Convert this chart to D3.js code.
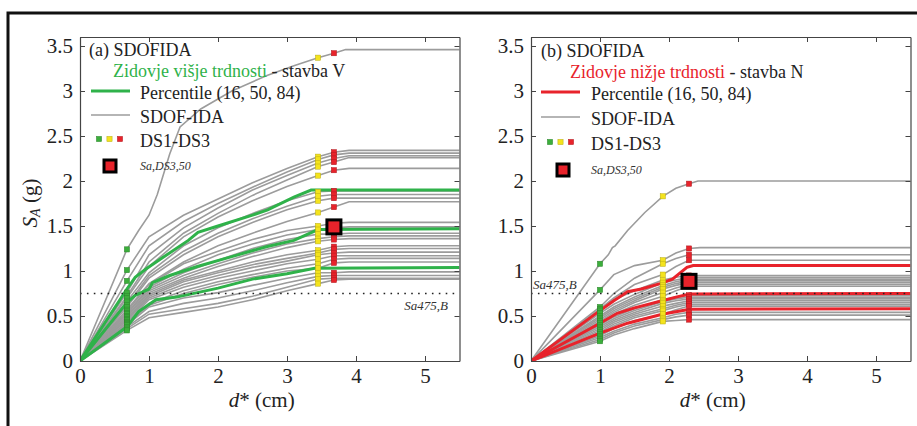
<!DOCTYPE html>
<html><head><meta charset="utf-8">
<script src="https://cdn.jsdelivr.net/npm/d3@7"></script>
<style>
body{margin:0;background:#fff}
svg, svg text{font-family:"Liberation Serif","DejaVu Serif","Times New Roman",Times,serif !important;fill:#222}
</style></head>
<body><svg id="c" width="917" height="426" font-family="Liberation Serif, serif"></svg>
<script>
// ---------- data ----------
const dTicks = [0,1,2,3,4,5];
const saTicks = [0,0.5,1,1.5,2,2.5,3,3.5];
const sa475 = 0.75;

// Panel (a): stavba V
const gridA = [0,0.68,1.0,1.5,2.0,2.5,3.0,3.45,3.68,3.9,5.5];
const dsA = [0.68,3.45,3.68];
const topA = [[0,0],[0.68,1.24],[0.85,1.45],[1.0,1.62],[1.12,1.85],[1.2,2.05],[1.3,2.3],[1.45,2.6],[1.75,2.8],[2.2,3.0],[2.7,3.17],[3.1,3.28],[3.45,3.37],[3.68,3.42],[3.85,3.46],[5.5,3.46]];
const curvesA = [
 [0,1.01,1.38,1.62,1.80,1.98,2.14,2.27,2.32,2.34,2.34],
 [0,0.89,1.28,1.55,1.75,1.93,2.10,2.24,2.29,2.31,2.31],
 [0,0.76,1.18,1.48,1.70,1.90,2.06,2.20,2.25,2.28,2.28],
 [0,0.72,1.10,1.42,1.64,1.84,2.01,2.16,2.21,2.26,2.26],
 [0,0.70,1.05,1.38,1.60,1.78,1.94,2.06,2.12,2.14,2.14],
 [0,0.66,0.98,1.28,1.48,1.64,1.78,1.88,1.89,1.89,1.89],
 [0,0.62,0.95,1.22,1.42,1.58,1.72,1.83,1.85,1.85,1.85],
 [0,0.60,0.92,1.18,1.38,1.54,1.68,1.78,1.81,1.81,1.81],
 [0,0.57,0.86,1.10,1.28,1.42,1.55,1.65,1.71,1.77,1.77],
 [0,0.55,0.85,1.08,1.22,1.35,1.45,1.50,1.53,1.54,1.54],
 [0,0.53,0.82,1.02,1.18,1.30,1.40,1.46,1.48,1.49,1.49],
 [0,0.52,0.80,0.98,1.12,1.25,1.35,1.41,1.41,1.42,1.42],
 [0,0.50,0.78,0.95,1.08,1.20,1.30,1.36,1.38,1.39,1.39],
 [0,0.49,0.76,0.92,1.05,1.16,1.26,1.33,1.35,1.36,1.36],
 [0,0.47,0.74,0.90,1.00,1.10,1.18,1.23,1.27,1.28,1.28],
 [0,0.46,0.72,0.88,0.98,1.07,1.14,1.20,1.24,1.25,1.25],
 [0,0.45,0.70,0.85,0.95,1.04,1.11,1.18,1.20,1.21,1.21],
 [0,0.43,0.68,0.82,0.92,1.00,1.08,1.13,1.17,1.17,1.17],
 [0,0.42,0.64,0.78,0.88,0.96,1.03,1.08,1.13,1.14,1.14],
 [0,0.41,0.62,0.75,0.85,0.93,1.00,1.03,1.09,1.10,1.10],
 [0,0.40,0.60,0.70,0.76,0.84,0.92,0.98,0.98,0.99,0.99],
 [0,0.38,0.55,0.64,0.70,0.78,0.87,0.94,0.95,0.95,0.95],
 [0,0.36,0.52,0.58,0.64,0.72,0.82,0.91,0.92,0.92,0.92],
 [0,0.34,0.48,0.54,0.60,0.68,0.78,0.86,0.90,0.91,0.91]
];
const p84A = [[0,0],[0.68,0.8],[0.8,0.93],[0.95,1.02],[1.2,1.15],[1.57,1.34],[1.71,1.43],[2.0,1.5],[2.5,1.62],[2.72,1.68],[3.1,1.82],[3.35,1.9],[5.5,1.9]];
const p50A = [[0,0],[0.68,0.65],[0.8,0.73],[1.0,0.8],[1.05,0.87],[1.3,0.95],[1.7,1.05],[2.2,1.16],[2.7,1.27],[3.1,1.34],[3.45,1.46],[5.5,1.47]];
const p16A = [[0,0],[0.68,0.38],[0.85,0.55],[1.1,0.68],[1.4,0.71],[2.0,0.81],[2.5,0.91],[3.0,0.97],[3.4,1.03],[5.5,1.04]];
const sa50A = [3.68,1.49];

// Panel (b): stavba N
const gridB = [0,1.0,1.2,1.5,1.91,2.1,2.29,2.45,5.5];
const dsB = [1.0,1.91,2.29];
const topB = [[0,0],[1.0,1.08],[1.12,1.18],[1.18,1.26],[1.22,1.28],[1.4,1.45],[1.65,1.65],[1.91,1.83],[2.1,1.92],[2.29,1.97],[2.42,2.0],[5.5,2.0]];
const curvesB = [
 [0,0.79,0.96,1.06,1.12,1.20,1.25,1.26,1.26],
 [0,0.60,0.75,0.92,1.08,1.14,1.18,1.18,1.18],
 [0,0.58,0.70,0.85,0.96,1.05,1.12,1.12,1.12],
 [0,0.56,0.68,0.78,0.90,0.93,0.95,0.95,0.95],
 [0,0.53,0.63,0.74,0.87,0.90,0.93,0.93,0.93],
 [0,0.50,0.60,0.71,0.84,0.88,0.91,0.91,0.91],
 [0,0.48,0.58,0.69,0.82,0.86,0.89,0.89,0.89],
 [0,0.46,0.56,0.67,0.80,0.84,0.87,0.87,0.87],
 [0,0.44,0.54,0.65,0.76,0.81,0.85,0.85,0.85],
 [0,0.42,0.52,0.62,0.72,0.78,0.83,0.83,0.83],
 [0,0.40,0.49,0.58,0.68,0.71,0.73,0.73,0.73],
 [0,0.38,0.47,0.56,0.66,0.69,0.71,0.71,0.71],
 [0,0.36,0.45,0.54,0.64,0.67,0.69,0.69,0.69],
 [0,0.34,0.43,0.52,0.61,0.64,0.67,0.67,0.67],
 [0,0.32,0.41,0.50,0.58,0.62,0.65,0.65,0.65],
 [0,0.30,0.39,0.48,0.56,0.60,0.63,0.63,0.63],
 [0,0.28,0.36,0.45,0.52,0.57,0.61,0.61,0.61],
 [0,0.26,0.33,0.41,0.48,0.52,0.54,0.54,0.54],
 [0,0.24,0.31,0.39,0.46,0.49,0.51,0.51,0.51],
 [0,0.22,0.29,0.36,0.44,0.45,0.46,0.46,0.46]
];
const p84B = [[0,0],[1.0,0.56],[1.2,0.67],[1.4,0.77],[1.6,0.8],[1.87,0.86],[2.05,0.91],[2.26,1.04],[2.35,1.06],[5.5,1.06]];
const p50B = [[0,0],[1.0,0.42],[1.25,0.53],[1.5,0.59],[1.9,0.67],[2.1,0.71],[2.3,0.745],[5.5,0.75]];
const p16B = [[0,0],[1.0,0.31],[1.4,0.42],[1.9,0.52],[2.3,0.575],[5.5,0.58]];
const sa50B = [2.29,0.885];

// ---------- drawing ----------
const svg = d3.select("#c");
const GRAY="#9c9c9c", GREEN="#2fb24a", RED="#e8232b", YEL="#f4e31d", DSG="#3cae3c";
const dsColors=[DSG,YEL,RED];
const SERIF = '"Liberation Serif","DejaVu Serif",serif';

svg.append("rect").attr("x",8).attr("y",13).attr("width",1000).attr("height",600)
  .attr("fill","none").attr("stroke","#111").attr("stroke-width",3);

function panel(cfg){
  const x = d3.scaleLinear([0,5.5],[cfg.x0, cfg.x0+379.5]);
  const y = d3.scaleLinear([0,3.6],[361,37]);
  const g = svg.append("g");
  const line = d3.line().x(p=>x(p[0])).y(p=>y(p[1]));
  const clip = "clip"+cfg.id;
  svg.append("clipPath").attr("id",clip).append("rect")
    .attr("x",x(0)).attr("y",y(3.6)).attr("width",x(5.5)-x(0)).attr("height",y(0)-y(3.6));
  const pg = g.append("g").attr("clip-path",`url(#${clip})`);
  const curves = [cfg.top, ...cfg.curves.map(c=>c.map((v,i)=>[cfg.grid[i],v]))];
  pg.selectAll("path.ida").data(curves).join("path").attr("class","ida")
    .attr("d",line).attr("fill","none").attr("stroke",GRAY).attr("stroke-width",1.6);
  pg.selectAll("path.pct").data(cfg.pct).join("path").attr("class","pct")
    .attr("d",line).attr("fill","none").attr("stroke",cfg.color).attr("stroke-width",3);
  pg.append("line").attr("x1",x(0)).attr("x2",x(5.5)).attr("y1",y(sa475)).attr("y2",y(sa475))
    .attr("stroke","#222").attr("stroke-width",1.6).attr("stroke-dasharray","1.6,5.3");
  const marks=[];
  curves.forEach(c=>cfg.ds.forEach((d,k)=>{const p=c.find(q=>q[0]===d); if(p) marks.push([p[0],p[1],k]);}));
  pg.selectAll("rect.ds").data(marks).join("rect").attr("class","ds")
    .attr("x",m=>x(m[0])-2.6).attr("y",m=>y(m[1])-2.6).attr("width",5.2).attr("height",5.2)
    .attr("fill",m=>dsColors[m[2]]).attr("stroke",m=>d3.color(dsColors[m[2]]).darker(0.8)).attr("stroke-width",0.5);
  g.append("rect").attr("x",x(cfg.sa50[0])-7).attr("y",y(cfg.sa50[1])-7).attr("width",14).attr("height",14)
    .attr("fill",RED).attr("stroke","#000").attr("stroke-width",3);
  // axes
  const ax = g.append("g").attr("color","#333");
  const styleTicks = s=>{ s.attr("font-family",SERIF); s.selectAll("text").attr("font-size",21).attr("fill","#222").style("font-family",SERIF); };
  ax.append("g").attr("transform",`translate(0,${y(0)})`)
    .call(d3.axisBottom(x).tickValues(dTicks).tickFormat(d3.format("d")).tickSizeInner(-5).tickSizeOuter(0).tickPadding(7))
    .call(styleTicks);
  ax.append("g").attr("transform",`translate(0,${y(3.6)})`)
    .call(d3.axisTop(x).tickValues(dTicks).tickFormat("").tickSizeInner(-5).tickSizeOuter(0));
  ax.append("g").attr("transform",`translate(${x(0)},0)`)
    .call(d3.axisLeft(y).tickValues(saTicks).tickFormat(d=>String(d)).tickSizeInner(-5).tickSizeOuter(0).tickPadding(7))
    .call(styleTicks);
  ax.append("g").attr("transform",`translate(${x(5.5)},0)`)
    .call(d3.axisRight(y).tickValues(saTicks).tickFormat("").tickSizeInner(-5).tickSizeOuter(0));
  ax.selectAll(".domain").attr("stroke","#444").attr("stroke-width",1.2);
  ax.selectAll(".tick line").attr("stroke","#444");
  // axis labels
  const xl = g.append("text").attr("x",(x(0)+x(5.5))/2-8).attr("y",407).attr("text-anchor","middle").attr("font-size",21);
  xl.append("tspan").attr("font-style","italic").text("d");
  xl.append("tspan").text("* (cm)");
  if(cfg.ylab){
    const yl = g.append("text").attr("transform",`translate(37,203) rotate(-90)`).attr("text-anchor","middle").attr("font-size",21);
    yl.append("tspan").attr("font-style","italic").text("S");
    yl.append("tspan").attr("font-style","italic").attr("font-size",14).attr("dy",3).text("A");
    yl.append("tspan").attr("dy",-3).text(" (g)");
  }
  g.append("text").attr("x",cfg.saLab[0]).attr("y",cfg.saLab[1]).attr("font-size",13).attr("font-style","italic")
    .attr("text-anchor",cfg.saLab[2]).style("fill","#333").text("Sa475,B");
  // legend
  const L = cfg.leg, x0=cfg.x0;
  g.append("text").attr("x",x0+L.tx).attr("y",L.y[0]).attr("font-size",18).text(cfg.title);
  const t2 = g.append("text").attr("x",x0+L.zx).attr("y",L.y[1]).attr("font-size",18);
  t2.append("tspan").style("fill",cfg.color).text(cfg.sub);
  t2.append("tspan").text(cfg.subRest);
  g.append("line").attr("x1",x0+L.lx[0]).attr("x2",x0+L.lx[1]).attr("y1",L.y[2]).attr("y2",L.y[2]).attr("stroke",cfg.color).attr("stroke-width",3);
  g.append("text").attr("x",x0+60).attr("y",L.y[2]+7.5).attr("font-size",18).text("Percentile (16, 50, 84)");
  g.append("line").attr("x1",x0+L.lx[0]).attr("x2",x0+L.lx[1]).attr("y1",L.y[3]).attr("y2",L.y[3]).attr("stroke",GRAY).attr("stroke-width",1.6);
  g.append("text").attr("x",x0+60).attr("y",L.y[3]+7.5).attr("font-size",18).text("SDOF-IDA");
  dsColors.forEach((c,i)=>g.append("rect").attr("x",x0+L.sq+i*10.5-2.6).attr("y",L.y[4]-2.6).attr("width",5.2).attr("height",5.2)
      .attr("fill",c).attr("stroke",d3.color(c).darker(0.8)).attr("stroke-width",0.5));
  g.append("text").attr("x",x0+60).attr("y",L.y[4]+7.5).attr("font-size",18).text("DS1-DS3");
  g.append("rect").attr("x",x0+L.big-6).attr("y",L.y[5]-6).attr("width",12).attr("height",12)
    .attr("fill",RED).attr("stroke","#000").attr("stroke-width",3);
  g.append("text").attr("x",x0+60).attr("y",L.y[5]+4).attr("font-size",12).attr("font-style","italic").style("fill","#333").text("Sa,DS3,50");
}

panel({id:"a", x0:80, grid:gridA, ds:dsA, top:topA, curves:curvesA, pct:[p16A,p50A,p84A], sa50:sa50A,
  color:GREEN, ylab:true, title:"(a) SDOFIDA", sub:"Zidovje višje trdnosti", subRest:" - stavba V",
  saLab:[448,310,"end"], leg:{tx:9, zx:33, lx:[11,50], sq:19, big:30, y:[56,77,91,115,139,166]}});
panel({id:"b", x0:531, grid:gridB, ds:dsB, top:topB, curves:curvesB, pct:[p16B,p50B,p84B], sa50:sa50B,
  color:RED, ylab:false, title:"(b) SDOFIDA", sub:"Zidovje nižje trdnosti", subRest:" - stavba N",
  saLab:[533,289,"start"], leg:{tx:10, zx:39, lx:[10,49], sq:19, big:32, y:[57,78,92,117,142,170]}});
</script></body></html>
